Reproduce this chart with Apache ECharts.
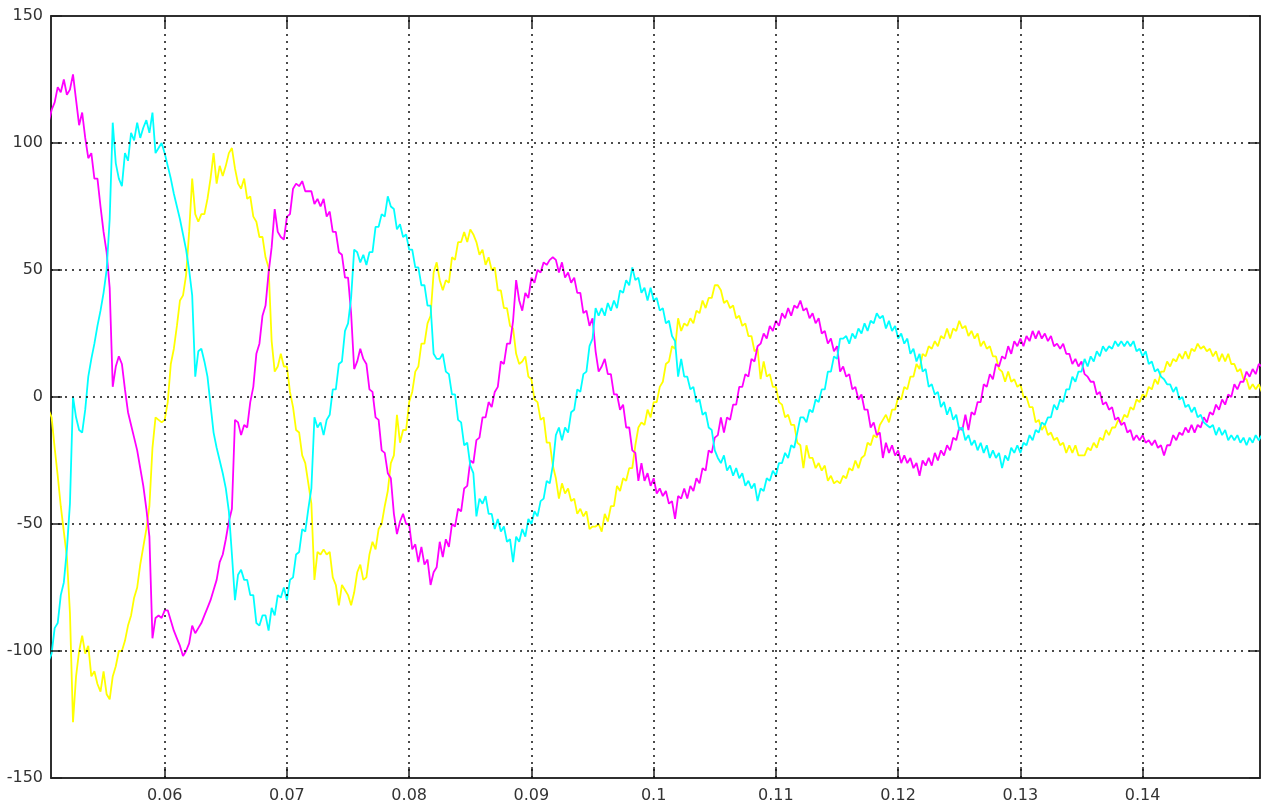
<!DOCTYPE html>
<html>
<head>
<meta charset="utf-8">
<title>Three-phase current</title>
<script src="https://cdn.jsdelivr.net/npm/echarts@6/dist/echarts.min.js"></script>
<style>
  html, body { margin: 0; padding: 0; background: #fff; }
  #chart { width: 1261px; height: 805px; }
</style>
</head>
<body>
<div id="chart"></div>
<script>
// Sampling of the scope trace (seconds)
const t0 = 0.0505;
const dt = 0.00025;

// Phase currents, one sample per dt
const phaseA = [ // yellow
  -5,-8,-20,-31,-43,-53,-63,-85,-128,-110,
  -100,-94,-101,-98,-110,-108,-113,-116,-108,-117,
  -119,-110,-106,-100,-100,-96,-90,-86,-79,-75,
  -66,-59,-52,-43,-20,-8,-9,-10,-9,-2,
  13,19,28,38,40,48,65,86,72,69,
  72,72,78,86,96,84,91,87,91,96,
  98,90,84,82,86,78,79,71,69,63,
  63,55,51,22,10,12,17,12,12,2,
  -4,-13,-14,-23,-26,-34,-42,-72,-61,-62,
  -60,-62,-61,-71,-74,-82,-74,-76,-78,-82,
  -77,-69,-66,-72,-71,-62,-57,-60,-52,-50,
  -43,-37,-26,-23,-7,-18,-13,-13,-2,2,
  10,12,21,21,29,32,49,53,46,42,
  46,45,55,54,61,61,65,61,66,64,
  61,56,58,52,55,50,51,42,42,35,
  35,28,27,17,13,14,16,8,7,-1,
  -2,-9,-8,-18,-18,-27,-32,-40,-34,-38,
  -36,-41,-40,-46,-44,-47,-45,-52,-51,-51,
  -50,-53,-46,-49,-43,-43,-35,-37,-32,-33,
  -28,-28,-19,-12,-10,-11,-5,-8,-2,-2,
  4,6,13,14,20,19,31,26,29,28,
  31,29,34,33,38,35,39,39,44,44,
  42,37,38,35,36,31,32,28,29,24,
  24,18,19,7,14,8,9,4,4,-2,
  -3,-8,-7,-11,-11,-18,-19,-28,-19,-24,
  -24,-28,-26,-29,-27,-33,-31,-34,-33,-34,
  -31,-32,-28,-29,-25,-28,-24,-23,-18,-19,
  -15,-16,-11,-9,-7,-10,-5,-5,0,-1,
  4,3,8,8,13,11,17,16,20,19,
  22,20,24,23,27,23,27,26,30,27,
  28,24,26,23,25,20,22,19,20,16,
  16,11,10,6,10,6,7,4,5,0,
  0,-4,-4,-10,-9,-13,-11,-15,-14,-17,
  -16,-19,-18,-22,-19,-22,-19,-23,-23,-23,
  -20,-21,-18,-20,-16,-17,-13,-15,-12,-12,
  -9,-10,-7,-8,-4,-5,-1,-2,1,0,
  4,3,7,5,10,10,14,12,15,14,
  17,15,18,15,19,18,21,19,20,18,
  19,16,18,14,17,14,17,13,13,10,
  11,7,7,3,5,3,5,2,4
];

const phaseB = [ // magenta
  108,113,116,122,120,125,119,121,127,117,
  107,112,102,94,96,86,86,75,65,57,
  43,4,12,16,13,3,-6,-11,-16,-21,
  -28,-35,-44,-55,-95,-87,-86,-87,-84,-84,
  -88,-92,-95,-98,-102,-100,-97,-90,-93,-91,
  -89,-86,-83,-80,-76,-72,-65,-62,-56,-49,
  -44,-9,-10,-15,-11,-12,-2,4,17,21,
  32,36,49,59,74,65,63,62,71,72,
  82,84,83,85,81,81,81,76,78,75,
  78,71,73,65,65,57,56,47,47,33,
  11,14,19,15,13,3,2,-8,-9,-21,
  -22,-30,-32,-46,-54,-49,-46,-50,-50,-60,
  -58,-65,-59,-66,-64,-74,-69,-67,-57,-63,
  -56,-59,-50,-51,-44,-45,-36,-35,-25,-26,
  -17,-16,-8,-8,-2,-4,2,4,14,13,
  21,21,30,46,38,34,41,39,47,45,
  50,49,53,52,54,55,54,49,53,47,
  49,45,47,41,41,33,34,28,31,18,
  10,12,15,9,9,1,1,-5,-3,-12,
  -12,-21,-22,-33,-26,-33,-30,-35,-32,-38,
  -36,-39,-37,-42,-41,-48,-39,-40,-36,-40,
  -35,-37,-32,-34,-28,-29,-21,-22,-16,-15,
  -8,-14,-8,-9,-3,-3,4,4,9,8,
  15,14,20,21,25,23,28,26,30,28,
  33,31,35,32,36,35,38,34,35,31,
  33,29,31,25,26,21,23,18,20,10,
  12,8,9,3,4,-1,1,-5,-5,-12,
  -10,-15,-14,-24,-18,-22,-19,-23,-21,-26,
  -23,-26,-24,-28,-26,-31,-25,-27,-24,-27,
  -22,-25,-21,-23,-19,-21,-16,-17,-12,-13,
  -7,-13,-6,-7,-2,-2,5,4,9,7,
  13,12,16,15,20,17,22,20,23,20,
  24,22,26,23,26,23,25,22,24,20,
  21,19,21,17,17,13,15,12,14,9,
  8,6,6,1,2,-3,-2,-5,-4,-9,
  -8,-11,-10,-14,-13,-17,-15,-17,-15,-18,
  -17,-19,-17,-20,-19,-23,-19,-19,-15,-17,
  -14,-15,-12,-14,-11,-14,-11,-12,-8,-10,
  -6,-7,-3,-5,-1,-3,1,0,5,3,
  6,6,10,8,11,9,13,12,16
];

const phaseC = [ // cyan
  -104,-101,-91,-89,-78,-73,-60,-42,0,-8,
  -13,-14,-5,8,15,21,28,34,41,50,
  70,108,92,86,83,96,93,104,101,108,
  102,106,109,104,112,96,98,100,96,91,
  86,80,75,70,64,58,50,40,8,18,
  19,14,8,-3,-14,-20,-25,-30,-36,-45,
  -62,-80,-70,-68,-72,-72,-78,-78,-89,-90,
  -86,-86,-92,-83,-86,-78,-79,-75,-80,-72,
  -71,-62,-61,-52,-53,-44,-36,-8,-12,-10,
  -15,-9,-7,3,3,13,14,26,29,39,
  58,57,53,56,52,57,57,67,67,72,
  71,79,75,74,66,68,63,64,58,58,
  51,51,44,44,36,36,17,15,15,17,
  10,9,1,1,-9,-10,-19,-18,-27,-30,
  -47,-40,-42,-39,-46,-46,-52,-48,-53,-51,
  -57,-56,-65,-55,-57,-52,-55,-48,-50,-45,
  -47,-41,-40,-33,-34,-27,-15,-12,-17,-12,
  -14,-6,-5,3,2,9,10,20,23,35,
  32,35,32,37,34,38,35,42,41,46,
  44,51,46,47,41,43,38,43,38,39,
  34,35,29,30,24,22,8,15,8,8,
  3,4,-2,-1,-7,-6,-12,-13,-21,-24,
  -26,-23,-29,-27,-31,-28,-32,-30,-35,-33,
  -36,-34,-41,-36,-37,-32,-33,-29,-31,-26,
  -26,-22,-24,-19,-20,-14,-8,-8,-10,-5,
  -6,-1,-2,3,3,10,10,16,15,23,
  23,24,21,25,23,27,25,29,26,30,
  29,33,31,32,27,30,26,28,23,25,
  21,23,17,19,14,17,10,11,4,5,
  1,2,-4,-2,-7,-4,-9,-7,-13,-12,
  -17,-15,-19,-17,-21,-18,-22,-19,-24,-21,
  -24,-22,-28,-23,-25,-20,-22,-19,-22,-18,
  -19,-15,-17,-13,-14,-10,-11,-8,-8,-3,
  -5,-1,-2,3,3,8,6,10,10,15,
  12,16,14,18,16,20,18,20,19,22,
  20,22,20,22,20,22,18,19,16,18,
  13,14,10,11,8,7,5,5,2,4,
  -1,0,-4,-3,-6,-4,-8,-7,-10,-11,
  -12,-11,-15,-12,-15,-13,-17,-15,-17,-15,
  -18,-16,-19,-16,-18,-15,-17,-15,-17
];

// Axis range and tick positions
const xMin = 0.0507;
const xMax = 0.1496;
const xTicks = [0.06, 0.07, 0.08, 0.09, 0.10, 0.11, 0.12, 0.13, 0.14];
const yTicks = [-150, -100, -50, 0, 50, 100, 150];

const toPairs = arr => arr.map((v, i) => [t0 + dt * i, v]);

const inkColor = '#222';
const labelFont = { color: '#333', fontSize: 16, fontFamily: 'DejaVu Sans' };
const gridDash = { color: '#111', width: 1.5, type: [2, 5] };

const chart = echarts.init(document.getElementById('chart'), null, { renderer: 'canvas' });

const traceStyle = (color) => ({
  type: 'line',
  showSymbol: false,
  symbol: 'none',
  animation: false,
  silent: true,
  clip: true,
  lineStyle: { color: color, width: 1.8 },
  itemStyle: { color: color }
});

chart.setOption({
  backgroundColor: '#ffffff',
  animation: false,
  grid: {
    left: 51, right: 1, top: 16, bottom: 27,
    show: true, borderColor: inkColor, borderWidth: 1.5,
    containLabel: false, outerBoundsMode: 'none'
  },
  xAxis: [
    {
      type: 'value', min: xMin, max: xMax, position: 'bottom',
      axisLine: { show: true, onZero: false, lineStyle: { color: inkColor, width: 1.5 } },
      axisTick: { show: true, inside: true, length: 11, customValues: xTicks, lineStyle: { color: inkColor, width: 1.5 } },
      axisLabel: Object.assign({ customValues: xTicks, margin: 10, formatter: v => String(Math.round(v * 100) / 100) }, labelFont),
      splitLine: { show: false }
    },
    {
      type: 'value', min: xMin, max: xMax, position: 'top',
      axisLine: { show: true, onZero: false, lineStyle: { color: inkColor, width: 1.5 } },
      axisTick: { show: true, inside: true, length: 11, customValues: xTicks, lineStyle: { color: inkColor, width: 1.5 } },
      axisLabel: { show: false },
      splitLine: { show: false }
    }
  ],
  yAxis: [
    {
      type: 'value', min: -150, max: 150, interval: 50, position: 'left',
      axisLine: { show: true, onZero: false, lineStyle: { color: inkColor, width: 1.5 } },
      axisTick: { show: true, inside: true, length: 11, lineStyle: { color: inkColor, width: 1.5 } },
      axisLabel: Object.assign({ margin: 8 }, labelFont),
      splitLine: { show: false }
    },
    {
      type: 'value', min: -150, max: 150, interval: 50, position: 'right',
      axisLine: { show: true, onZero: false, lineStyle: { color: inkColor, width: 1.5 } },
      axisTick: { show: true, inside: true, length: 11, lineStyle: { color: inkColor, width: 1.5 } },
      axisLabel: { show: false },
      splitLine: { show: false }
    }
  ],
  series: [
    {
      // dotted scope grid
      type: 'line', data: [], silent: true, animation: false,
      markLine: {
        silent: true, animation: false, symbol: ['none', 'none'],
        label: { show: false },
        lineStyle: gridDash,
        data: xTicks.map(x => ({ xAxis: x }))
          .concat(yTicks.slice(1, -1).map(y => ({ yAxis: y })))
      }
    },
    Object.assign(traceStyle('#ffff00'), { name: 'A', data: toPairs(phaseA) }),
    Object.assign(traceStyle('#ff00ff'), { name: 'B', data: toPairs(phaseB) }),
    Object.assign(traceStyle('#00ffff'), { name: 'C', data: toPairs(phaseC) })
  ]
});
</script>
</body>
</html>
